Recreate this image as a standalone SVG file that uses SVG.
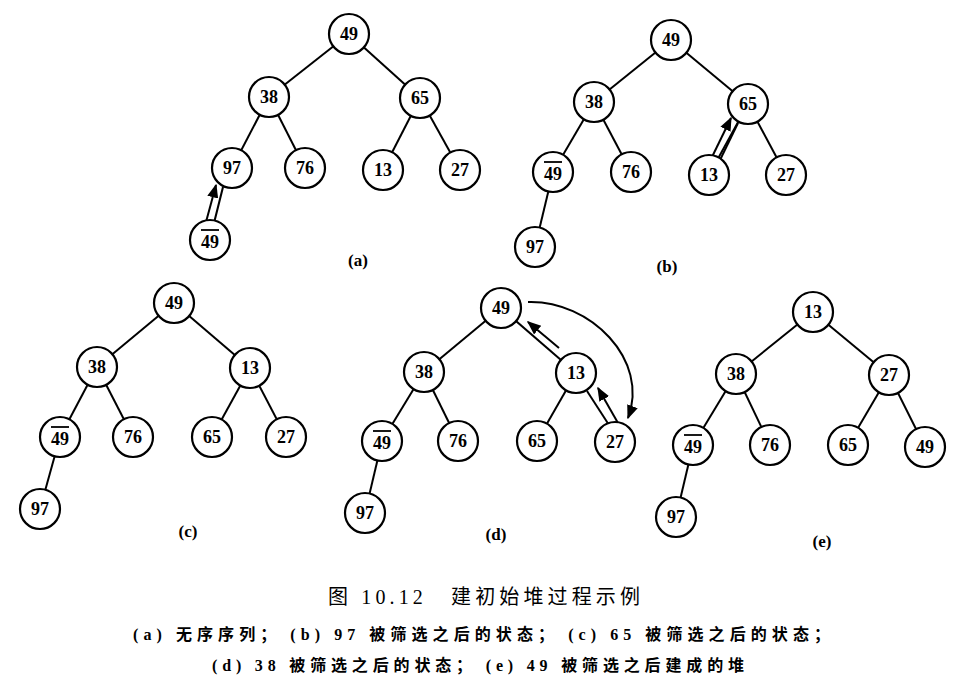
<svg xmlns="http://www.w3.org/2000/svg" width="957" height="689" viewBox="0 0 957 689">
<style>
.n circle{fill:#fff;stroke:#000;stroke-width:2.2}
.n text{font-family:"Liberation Serif",serif;font-weight:bold;font-size:18px;text-anchor:middle;dominant-baseline:central}
.e line,.e path{stroke:#000;stroke-width:2;fill:none}
.lb{font-family:"Liberation Serif",serif;font-weight:bold;font-size:17px;text-anchor:middle}
.cap{font-family:"Liberation Serif","Noto Sans CJK SC",serif;fill:#000}
</style>
<defs>
<marker id="ah" viewBox="0 0 10 10" refX="9" refY="5" markerWidth="7" markerHeight="7" orient="auto"><path d="M0,1 L10,5 L0,9 z" fill="#000"/></marker>
</defs>
<rect width="957" height="689" fill="#fff"/>
<g class="e" id="connectors">
<line x1="349" y1="34" x2="269" y2="97"/><line x1="349" y1="34" x2="420" y2="98"/>
<line x1="269" y1="97" x2="232" y2="168"/><line x1="269" y1="97" x2="305" y2="168"/>
<line x1="420" y1="98" x2="383" y2="170"/><line x1="420" y1="98" x2="460" y2="170"/>
<line x1="206" y1="222" x2="216" y2="185" marker-end="url(#ah)"/><line x1="214" y1="223" x2="223" y2="187"/>
<line x1="671" y1="40" x2="594" y2="102"/><line x1="671" y1="40" x2="748" y2="104"/>
<line x1="594" y1="102" x2="553" y2="172"/><line x1="594" y1="102" x2="631" y2="172"/>
<line x1="748" y1="104" x2="709" y2="175"/><line x1="748" y1="104" x2="786" y2="175"/>
<line x1="553" y1="172" x2="535" y2="247"/>
<line x1="712" y1="157" x2="731" y2="118" marker-end="url(#ah)"/><line x1="720" y1="160" x2="738" y2="123"/>
<line x1="174" y1="303" x2="97" y2="367"/><line x1="174" y1="303" x2="250" y2="368"/>
<line x1="97" y1="367" x2="60" y2="437"/><line x1="97" y1="367" x2="133" y2="437"/>
<line x1="250" y1="368" x2="212" y2="437"/><line x1="250" y1="368" x2="286" y2="437"/>
<line x1="60" y1="437" x2="40" y2="509"/>
<line x1="501" y1="308" x2="424" y2="372"/>
<line x1="501" y1="308" x2="576" y2="373"/>
<line x1="559" y1="348" x2="528" y2="322" marker-end="url(#ah)"/>
<line x1="424" y1="372" x2="382" y2="441"/><line x1="424" y1="372" x2="458" y2="441"/>
<line x1="576" y1="373" x2="537" y2="441"/>
<line x1="587" y1="391" x2="609" y2="425"/><line x1="618" y1="423" x2="598" y2="388" marker-end="url(#ah)"/>
<line x1="382" y1="441" x2="365" y2="513"/>
<path d="M528,302 C590,300 650,360 628,418" marker-end="url(#ah)"/>
<line x1="813" y1="312" x2="736" y2="374"/><line x1="813" y1="312" x2="889" y2="375"/>
<line x1="736" y1="374" x2="693" y2="445"/><line x1="736" y1="374" x2="770" y2="445"/>
<line x1="889" y1="375" x2="848" y2="445"/><line x1="889" y1="375" x2="925" y2="447"/>
<line x1="693" y1="445" x2="676" y2="517"/>
</g>
<g class="n" id="a49"><circle cx="349" cy="34" r="20"/><text x="349" y="34">49</text></g>
<g class="n" id="a38"><circle cx="269" cy="97" r="20"/><text x="269" y="97">38</text></g>
<g class="n" id="a65"><circle cx="420" cy="98" r="20"/><text x="420" y="98">65</text></g>
<g class="n" id="a97"><circle cx="232" cy="168" r="20"/><text x="232" y="168">97</text></g>
<g class="n" id="a76"><circle cx="305" cy="168" r="20"/><text x="305" y="168">76</text></g>
<g class="n" id="a13"><circle cx="383" cy="170" r="20"/><text x="383" y="170">13</text></g>
<g class="n" id="a27"><circle cx="460" cy="170" r="20"/><text x="460" y="170">27</text></g>
<g class="n" id="a49b"><circle cx="210" cy="240" r="20"/><text x="210" y="242">49</text><line x1="201" y1="230" x2="219" y2="230" stroke="#000" stroke-width="1.8"/></g>
<text class="lb" x="358" y="266">(a)</text>
<g class="n" id="b49"><circle cx="671" cy="40" r="20"/><text x="671" y="40">49</text></g>
<g class="n" id="b38"><circle cx="594" cy="102" r="20"/><text x="594" y="102">38</text></g>
<g class="n" id="b65"><circle cx="748" cy="104" r="20"/><text x="748" y="104">65</text></g>
<g class="n" id="b49b"><circle cx="553" cy="172" r="20"/><text x="553" y="174">49</text><line x1="544" y1="162" x2="562" y2="162" stroke="#000" stroke-width="1.8"/></g>
<g class="n" id="b76"><circle cx="631" cy="172" r="20"/><text x="631" y="172">76</text></g>
<g class="n" id="b13"><circle cx="709" cy="175" r="20"/><text x="709" y="175">13</text></g>
<g class="n" id="b27"><circle cx="786" cy="175" r="20"/><text x="786" y="175">27</text></g>
<g class="n" id="b97"><circle cx="535" cy="247" r="20"/><text x="535" y="247">97</text></g>
<text class="lb" x="667" y="272">(b)</text>
<g class="n" id="c49"><circle cx="174" cy="303" r="20"/><text x="174" y="303">49</text></g>
<g class="n" id="c38"><circle cx="97" cy="367" r="20"/><text x="97" y="367">38</text></g>
<g class="n" id="c13"><circle cx="250" cy="368" r="20"/><text x="250" y="368">13</text></g>
<g class="n" id="c49b"><circle cx="60" cy="437" r="20"/><text x="60" y="439">49</text><line x1="51" y1="427" x2="69" y2="427" stroke="#000" stroke-width="1.8"/></g>
<g class="n" id="c76"><circle cx="133" cy="437" r="20"/><text x="133" y="437">76</text></g>
<g class="n" id="c65"><circle cx="212" cy="437" r="20"/><text x="212" y="437">65</text></g>
<g class="n" id="c27"><circle cx="286" cy="437" r="20"/><text x="286" y="437">27</text></g>
<g class="n" id="c97"><circle cx="40" cy="509" r="20"/><text x="40" y="509">97</text></g>
<text class="lb" x="188" y="537">(c)</text>
<g class="n" id="d49"><circle cx="501" cy="308" r="20"/><text x="501" y="308">49</text></g>
<g class="n" id="d38"><circle cx="424" cy="372" r="20"/><text x="424" y="372">38</text></g>
<g class="n" id="d13"><circle cx="576" cy="373" r="20"/><text x="576" y="373">13</text></g>
<g class="n" id="d49b"><circle cx="382" cy="441" r="20"/><text x="382" y="443">49</text><line x1="373" y1="431" x2="391" y2="431" stroke="#000" stroke-width="1.8"/></g>
<g class="n" id="d76"><circle cx="458" cy="441" r="20"/><text x="458" y="441">76</text></g>
<g class="n" id="d65"><circle cx="537" cy="441" r="20"/><text x="537" y="441">65</text></g>
<g class="n" id="d27"><circle cx="615" cy="442" r="20"/><text x="615" y="442">27</text></g>
<g class="n" id="d97"><circle cx="365" cy="513" r="20"/><text x="365" y="513">97</text></g>
<text class="lb" x="496" y="540">(d)</text>
<g class="n" id="e13"><circle cx="813" cy="312" r="20"/><text x="813" y="312">13</text></g>
<g class="n" id="e38"><circle cx="736" cy="374" r="20"/><text x="736" y="374">38</text></g>
<g class="n" id="e27"><circle cx="889" cy="375" r="20"/><text x="889" y="375">27</text></g>
<g class="n" id="e49b"><circle cx="693" cy="445" r="20"/><text x="693" y="447">49</text><line x1="684" y1="435" x2="702" y2="435" stroke="#000" stroke-width="1.8"/></g>
<g class="n" id="e76"><circle cx="770" cy="445" r="20"/><text x="770" y="445">76</text></g>
<g class="n" id="e65"><circle cx="848" cy="445" r="20"/><text x="848" y="445">65</text></g>
<g class="n" id="e49"><circle cx="925" cy="447" r="20"/><text x="925" y="447">49</text></g>
<g class="n" id="e97"><circle cx="676" cy="517" r="20"/><text x="676" y="517">97</text></g>
<text class="lb" x="822" y="547">(e)</text>
<text class="cap" x="328" y="604" font-size="20" textLength="312" lengthAdjust="spacing">图 10.12　建初始堆过程示例</text>
<text class="cap" x="133" y="640" font-size="16" font-weight="bold" textLength="697" lengthAdjust="spacing">(a) 无序序列；  (b) 97 被筛选之后的状态；  (c) 65 被筛选之后的状态；</text>
<text class="cap" x="212" y="671" font-size="16" font-weight="bold" textLength="532" lengthAdjust="spacing">(d) 38 被筛选之后的状态；  (e) 49 被筛选之后建成的堆</text>
</svg>
